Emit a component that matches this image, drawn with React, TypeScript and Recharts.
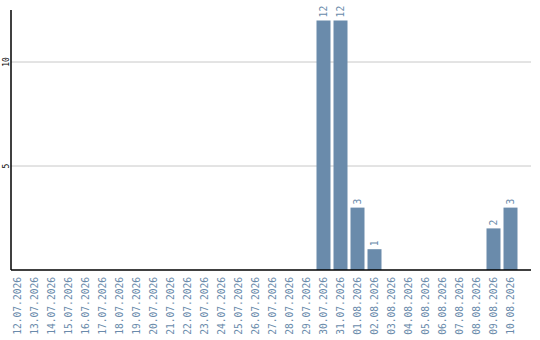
import { BarChart, Bar, XAxis, YAxis, CartesianGrid, LabelList } from 'recharts';

const days = [
  '12.07.2026', '13.07.2026', '14.07.2026', '15.07.2026', '16.07.2026', '17.07.2026',
  '18.07.2026', '19.07.2026', '20.07.2026', '21.07.2026', '22.07.2026', '23.07.2026',
  '24.07.2026', '25.07.2026', '26.07.2026', '27.07.2026', '28.07.2026', '29.07.2026',
  '30.07.2026', '31.07.2026', '01.08.2026', '02.08.2026', '03.08.2026', '04.08.2026',
  '05.08.2026', '06.08.2026', '07.08.2026', '08.08.2026', '09.08.2026', '10.08.2026',
];
const counts = [
  0, 0, 0, 0, 0, 0,
  0, 0, 0, 0, 0, 0,
  0, 0, 0, 0, 0, 0,
  12, 12, 3, 1, 0, 0,
  0, 0, 0, 0, 2, 3,
];
const yTicks = [5, 10];

const BLUE = '#6a8bab';
const MONO = '"DejaVu Sans Mono", monospace';

const data = days.map((day, i) => ({ day, count: counts[i] }));

// date labels, vertical, reading upwards
const DayTick = ({ x, y, payload }: any) => (
  <text
    x={x}
    y={y - 1}
    transform={`rotate(-90, ${x}, ${y - 1})`}
    textAnchor="end"
    dominantBaseline="central"
    fontFamily={MONO}
    fontSize={9.6}
    fill={BLUE}
  >
    {payload.value}
  </text>
);

const CountTick = ({ y, payload }: any) => (
  <text
    x={6}
    y={y}
    transform={`rotate(-90, 6, ${y})`}
    textAnchor="middle"
    dominantBaseline="central"
    fontFamily={MONO}
    fontSize={8}
    fill="#000"
  >
    {payload.value}
  </text>
);

const ValueLabel = ({ x, y, width, value }: any) => {
  if (!value) return null;
  const cx = x + width / 2;
  const cy = y - 3;
  return (
    <text
      x={cx}
      y={cy}
      transform={`rotate(-90, ${cx}, ${cy})`}
      textAnchor="start"
      dominantBaseline="central"
      fontFamily={MONO}
      fontSize={9.6}
      fill={BLUE}
    >
      {value}
    </text>
  );
};

export default function App() {
  return (
    <div style={{ position: 'absolute', left: 0, top: 0, width: 540, height: 340, background: '#fff' }}>
      <BarChart
        width={540}
        height={340}
        data={data}
        margin={{ top: 10, right: 9, left: 0, bottom: 0 }}
        barCategoryGap={0}
      >
        <CartesianGrid vertical={false} stroke="#c8c8c8" horizontalValues={yTicks} />
        <XAxis
          dataKey="day"
          interval={0}
          height={70}
          padding={{ left: -2.5, right: 12.5 }}
          tick={<DayTick />}
          tickLine={false}
          axisLine={{ stroke: '#000', strokeWidth: 1.5 }}
        />
        <YAxis
          width={11}
          domain={[0, 12.5]}
          ticks={yTicks}
          tick={<CountTick />}
          tickLine={false}
          axisLine={{ stroke: '#000', strokeWidth: 1.5 }}
        />
        <Bar dataKey="count" fill={BLUE} barSize={14} isAnimationActive={false}>
          <LabelList dataKey="count" content={<ValueLabel />} />
        </Bar>
      </BarChart>
    </div>
  );
}
